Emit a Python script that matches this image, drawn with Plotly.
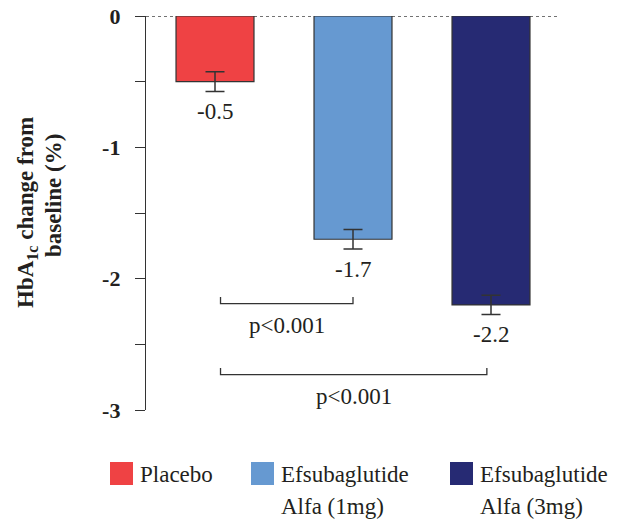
import plotly.graph_objects as go

# ---- data ----
categories = ["Placebo", "Efsubaglutide\nAlfa (1mg)", "Efsubaglutide\nAlfa (3mg)"]
values = [-0.5, -1.7, -2.2]
errors = [0.075, 0.075, 0.073]
value_labels = ["-0.5", "-1.7", "-2.2"]
colors = ["#EF4244", "#6699D1", "#262A73"]
tick_vals = [0, -1, -2, -3]
tick_text = ["0", "-1", "-2", "-3"]
# comparisons: (from x, to x, bracket y, label)
comparisons = [(0.04, 1.0, -2.19, "p<0.001"), (0.04, 1.97, -2.73, "p<0.001")]

W, H = 622, 519
L, R, T, B = 146, 62, 16, 109
FONT = "Liberation Serif, Times New Roman, serif"
TXT = "#231F20"
FS = 23

def px(x):  # pixel x -> paper
    return (x - L) / (W - L - R)

def py(y):  # pixel y -> paper
    return (H - B - y) / (H - T - B)

xs = list(range(len(categories)))

fig = go.Figure()
fig.add_trace(go.Bar(
    x=xs, y=values, width=0.565,
    marker=dict(color=colors, line=dict(color="#333333", width=1.2)),
    error_y=dict(type="data", array=errors, visible=True, color="#333333",
                 thickness=1.5, width=9.5),
    showlegend=False, hoverinfo="skip",
))

annotations = []
shapes = []

# zero reference line
shapes.append(dict(type="line", xref="x", yref="y", x0=-0.5, x1=2.5, y0=0, y1=0,
                   line=dict(color="#444444", width=1.5, dash="dot"), layer="below"))

# value labels
for x, v, lab in zip(xs, values, value_labels):
    annotations.append(dict(x=x, y=v, xref="x", yref="y", text=lab, showarrow=False,
                            yshift=-30, font=dict(family=FONT, size=FS, color=TXT)))

# significance brackets
for x0, x1, yb, lab in comparisons:
    shapes.append(dict(type="path", xref="x", yref="y",
                       path=f"M {x0} {yb + 0.05} L {x0} {yb} L {x1} {yb} L {x1} {yb + 0.05}",
                       line=dict(color="#333333", width=1.3)))
    annotations.append(dict(x=(x0 + x1) / 2, y=yb, xref="x", yref="y", text=lab,
                            showarrow=False, yshift=-22,
                            font=dict(family=FONT, size=FS, color=TXT)))

# y-axis title (two lines)
annotations.append(dict(x=px(27), y=py(213), xref="paper", yref="paper",
                        text="<b>HbA<sub>1c</sub> change from</b>", textangle=-90,
                        showarrow=False, xanchor="center", yanchor="middle",
                        font=dict(family=FONT, size=FS, color=TXT)))
annotations.append(dict(x=px(53), y=py(196), xref="paper", yref="paper",
                        text="<b>baseline (%)</b>", textangle=-90,
                        showarrow=False, xanchor="center", yanchor="middle",
                        font=dict(family=FONT, size=FS, color=TXT)))

# legend (drawn manually)
leg_x = [110, 251, 450]
for lx, name, col in zip(leg_x, categories, colors):
    shapes.append(dict(type="rect", xref="paper", yref="paper",
                       x0=px(lx), x1=px(lx + 23), y0=py(485), y1=py(462),
                       fillcolor=col, line=dict(width=0)))
    for i, line in enumerate(name.split("\n")):
        annotations.append(dict(x=px(lx + 28), y=py(474 + 32 * i), xref="paper", yref="paper",
                                text=line, showarrow=False, xanchor="left", yanchor="middle",
                                font=dict(family=FONT, size=FS, color=TXT)))

fig.update_layout(
    width=W, height=H,
    margin=dict(l=L, r=R, t=T, b=B, autoexpand=False),
    plot_bgcolor="white", paper_bgcolor="white",
    xaxis=dict(range=[-0.5, 2.5], visible=False, fixedrange=True),
    yaxis=dict(range=[-3, 0], tickvals=tick_vals, ticktext=tick_text,
               showline=True, linecolor="#333333", linewidth=1.3,
               ticks="outside", ticklen=10, tickwidth=1.3, tickcolor="#333333",
               minor=dict(dtick=0.5, tick0=0, ticks="outside", ticklen=10,
                          tickwidth=1.3, tickcolor="#333333", showgrid=False),
               showgrid=False, zeroline=False, ticklabelstandoff=10,
               tickfont=dict(family=FONT, size=22, color=TXT, weight="bold"),
               fixedrange=True),
    shapes=shapes, annotations=annotations,
)

fig.write_html("out.html")
